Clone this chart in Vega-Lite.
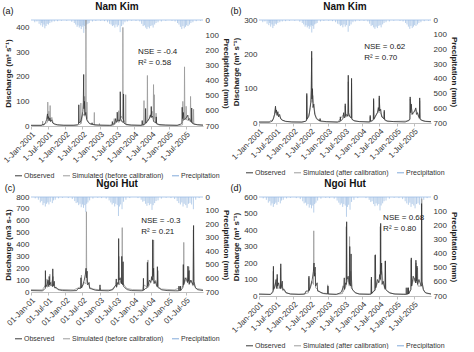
{
"$schema":"https://vega.github.io/schema/vega-lite/v6.json",
"padding":{"left":2,"top":2,"right":2,"bottom":0},
"config":{
"font":"Liberation Sans",
"view":{"stroke":null},
"axis":{"labelFontSize":8,"titleFontSize":8,"titleFontWeight":"bold","labelColor":"#333333","titleColor":"#222222","grid":false,"domain":false,"ticks":false,"labelPadding":2,"titlePadding":3,"labelOverlap":false},
"axisX":{"domain":true,"ticks":true,"domainColor":"#bfbfbf","tickColor":"#bfbfbf","tickSize":3,"labelAngle":-45,"labelOverlap":false,"labelPadding":1},
"legend":{"orient":"bottom","direction":"horizontal","symbolType":"stroke","symbolSize":49,"symbolStrokeWidth":1.2,"labelFontSize":7,"labelColor":"#333333","columnPadding":5,"labelOffset":1,"offset":6,"padding":0,"layout":{"bottom":{"anchor":"middle"}}},
"title":{"fontSize":10,"fontWeight":"bold","color":"#111111","offset":4},
"concat":{"spacing":0}
},
"datasets":{
"pNK":[{"d":"2001-02-10","p":15},{"d":"2001-03-05","p":10},{"d":"2001-03-28","p":25},{"d":"2001-04-15","p":35},{"d":"2001-04-25","p":20},{"d":"2001-05-05","p":45},{"d":"2001-05-18","p":30},{"d":"2001-05-28","p":55},{"d":"2001-06-10","p":40},{"d":"2001-06-22","p":25},{"d":"2001-07-05","p":30},{"d":"2001-07-20","p":20},{"d":"2001-08-10","p":15},{"d":"2001-09-05","p":10},{"d":"2001-10-10","p":8},{"d":"2001-11-20","p":5},
{"d":"2002-01-15","p":5},{"d":"2002-03-10","p":12},{"d":"2002-04-05","p":20},{"d":"2002-04-20","p":30},{"d":"2002-05-05","p":45},{"d":"2002-05-15","p":35},{"d":"2002-05-28","p":50},{"d":"2002-06-08","p":40},{"d":"2002-06-18","p":60},{"d":"2002-06-28","p":45},{"d":"2002-07-08","p":35},{"d":"2002-07-15","p":85},{"d":"2002-07-25","p":40},{"d":"2002-08-05","p":60},{"d":"2002-08-15","p":30},{"d":"2002-08-28","p":25},{"d":"2002-09-10","p":20},{"d":"2002-10-15","p":10},{"d":"2002-11-20","p":6},
{"d":"2003-01-10","p":5},{"d":"2003-02-20","p":8},{"d":"2003-03-25","p":15},{"d":"2003-04-15","p":25},{"d":"2003-05-01","p":30},{"d":"2003-05-15","p":40},{"d":"2003-05-28","p":35},{"d":"2003-06-10","p":50},{"d":"2003-06-22","p":30},{"d":"2003-07-05","p":45},{"d":"2003-07-18","p":35},{"d":"2003-08-05","p":80},{"d":"2003-08-20","p":40},{"d":"2003-09-05","p":30},{"d":"2003-09-25","p":15},{"d":"2003-10-20","p":10},{"d":"2003-12-05","p":5},
{"d":"2004-01-20","p":6},{"d":"2004-03-01","p":10},{"d":"2004-03-20","p":25},{"d":"2004-04-05","p":40},{"d":"2004-04-18","p":35},{"d":"2004-05-02","p":50},{"d":"2004-05-15","p":60},{"d":"2004-05-28","p":45},{"d":"2004-06-10","p":55},{"d":"2004-06-25","p":40},{"d":"2004-07-08","p":35},{"d":"2004-07-20","p":50},{"d":"2004-08-05","p":30},{"d":"2004-08-20","p":20},{"d":"2004-09-10","p":15},{"d":"2004-10-15","p":10},{"d":"2004-12-01","p":5},
{"d":"2005-02-05","p":6},{"d":"2005-03-10","p":10},{"d":"2005-04-05","p":20},{"d":"2005-04-20","p":30},{"d":"2005-05-05","p":45},{"d":"2005-05-20","p":60},{"d":"2005-06-01","p":40},{"d":"2005-06-15","p":55},{"d":"2005-06-28","p":45},{"d":"2005-07-10","p":35},{"d":"2005-07-25","p":40},{"d":"2005-08-10","p":30},{"d":"2005-08-25","p":20},{"d":"2005-09-15","p":15},{"d":"2005-10-20","p":8},{"d":"2005-12-05","p":5}],
"pNH":[{"d":"2001-02-15","p":10},{"d":"2001-03-20","p":20},{"d":"2001-04-10","p":40},{"d":"2001-04-25","p":30},{"d":"2001-05-08","p":60},{"d":"2001-05-20","p":45},{"d":"2001-06-02","p":70},{"d":"2001-06-15","p":50},{"d":"2001-06-28","p":40},{"d":"2001-07-10","p":55},{"d":"2001-07-25","p":35},{"d":"2001-08-15","p":45},{"d":"2001-08-28","p":25},{"d":"2001-09-15","p":20},{"d":"2001-10-20","p":10},{"d":"2001-12-01","p":6},
{"d":"2002-02-01","p":8},{"d":"2002-03-15","p":15},{"d":"2002-04-10","p":30},{"d":"2002-04-25","p":45},{"d":"2002-05-10","p":40},{"d":"2002-05-22","p":60},{"d":"2002-06-05","p":50},{"d":"2002-06-18","p":75},{"d":"2002-07-01","p":55},{"d":"2002-07-12","p":80},{"d":"2002-07-25","p":60},{"d":"2002-08-05","p":110},{"d":"2002-08-15","p":50},{"d":"2002-08-28","p":40},{"d":"2002-09-15","p":25},{"d":"2002-10-20","p":12},{"d":"2002-12-10","p":6},
{"d":"2003-01-20","p":8},{"d":"2003-03-10","p":12},{"d":"2003-04-10","p":25},{"d":"2003-04-28","p":40},{"d":"2003-05-12","p":55},{"d":"2003-05-25","p":45},{"d":"2003-06-08","p":70},{"d":"2003-06-20","p":50},{"d":"2003-07-05","p":60},{"d":"2003-07-18","p":140},{"d":"2003-07-28","p":70},{"d":"2003-08-10","p":55},{"d":"2003-08-25","p":90},{"d":"2003-09-10","p":35},{"d":"2003-10-05","p":20},{"d":"2003-11-15","p":8},
{"d":"2004-02-10","p":8},{"d":"2004-03-15","p":20},{"d":"2004-04-01","p":35},{"d":"2004-04-15","p":30},{"d":"2004-05-01","p":50},{"d":"2004-05-15","p":65},{"d":"2004-05-28","p":45},{"d":"2004-06-10","p":60},{"d":"2004-06-25","p":50},{"d":"2004-07-08","p":95},{"d":"2004-07-20","p":60},{"d":"2004-08-05","p":45},{"d":"2004-08-20","p":30},{"d":"2004-09-10","p":25},{"d":"2004-10-15","p":12},{"d":"2004-12-05","p":6},
{"d":"2005-01-25","p":8},{"d":"2005-03-05","p":15},{"d":"2005-04-01","p":30},{"d":"2005-04-18","p":45},{"d":"2005-05-05","p":55},{"d":"2005-05-20","p":40},{"d":"2005-06-02","p":70},{"d":"2005-06-15","p":50},{"d":"2005-07-01","p":60},{"d":"2005-07-15","p":80},{"d":"2005-07-30","p":50},{"d":"2005-08-15","p":45},{"d":"2005-09-01","p":55},{"d":"2005-09-20","p":90},{"d":"2005-10-15","p":20},{"d":"2005-11-20","p":8}],
"oNK":[{"d":"2001-01-01","v":3},{"d":"2001-04-20","v":3},{"d":"2001-05-05","v":6},{"d":"2001-05-20","v":5},{"d":"2001-06-05","v":15},{"d":"2001-06-15","v":25},{"d":"2001-06-25","v":49},{"d":"2001-06-29","v":30},{"d":"2001-07-05","v":38},{"d":"2001-07-12","v":22},{"d":"2001-07-20","v":33},{"d":"2001-07-28","v":18},{"d":"2001-08-08","v":25},{"d":"2001-08-20","v":12},{"d":"2001-09-10","v":8},{"d":"2001-10-10","v":5},{"d":"2001-12-15","v":3},
{"d":"2002-04-01","v":3},{"d":"2002-05-10","v":5},{"d":"2002-05-20","v":8},{"d":"2002-05-23","v":86},{"d":"2002-05-27","v":12},{"d":"2002-06-15","v":20},{"d":"2002-06-28","v":45},{"d":"2002-07-05","v":60},{"d":"2002-07-10","v":95},{"d":"2002-07-14","v":209},{"d":"2002-07-17","v":70},{"d":"2002-07-22","v":100},{"d":"2002-07-28","v":45},{"d":"2002-08-05","v":55},{"d":"2002-08-15","v":25},{"d":"2002-09-01","v":15},{"d":"2002-09-20","v":9},{"d":"2002-10-09","v":7},{"d":"2002-10-11","v":13},{"d":"2002-10-14","v":6},{"d":"2002-12-15","v":4},
{"d":"2003-04-15","v":3},{"d":"2003-05-11","v":4},{"d":"2003-05-14","v":18},{"d":"2003-05-18","v":6},{"d":"2003-06-10","v":12},{"d":"2003-06-18","v":30},{"d":"2003-06-24","v":15},{"d":"2003-07-02","v":18},{"d":"2003-07-05","v":56},{"d":"2003-07-10","v":20},{"d":"2003-07-22","v":25},{"d":"2003-08-03","v":20},{"d":"2003-08-06","v":139},{"d":"2003-08-10","v":30},{"d":"2003-08-22","v":18},{"d":"2003-09-07","v":15},{"d":"2003-09-10","v":130},{"d":"2003-09-13","v":12},{"d":"2003-10-05","v":7},{"d":"2003-12-01","v":4},
{"d":"2004-03-15","v":3},{"d":"2004-03-23","v":4},{"d":"2004-03-26","v":22},{"d":"2004-03-30","v":5},{"d":"2004-04-20","v":8},{"d":"2004-04-28","v":10},{"d":"2004-05-01","v":71},{"d":"2004-05-05","v":12},{"d":"2004-05-20","v":20},{"d":"2004-06-10","v":30},{"d":"2004-06-20","v":45},{"d":"2004-06-27","v":35},{"d":"2004-06-30","v":79},{"d":"2004-07-05","v":35},{"d":"2004-07-15","v":40},{"d":"2004-07-25","v":18},{"d":"2004-08-10","v":15},{"d":"2004-08-19","v":12},{"d":"2004-08-22","v":37},{"d":"2004-08-26","v":10},{"d":"2004-09-20","v":6},{"d":"2004-12-01","v":4},
{"d":"2005-04-01","v":3},{"d":"2005-05-10","v":8},{"d":"2005-05-21","v":12},{"d":"2005-05-24","v":76},{"d":"2005-05-28","v":30},{"d":"2005-06-05","v":55},{"d":"2005-06-12","v":25},{"d":"2005-06-25","v":30},{"d":"2005-07-10","v":35},{"d":"2005-07-23","v":44},{"d":"2005-07-30","v":25},{"d":"2005-08-10","v":30},{"d":"2005-08-20","v":20},{"d":"2005-08-30","v":15},{"d":"2005-09-02","v":73},{"d":"2005-09-06","v":12},{"d":"2005-09-25","v":8},{"d":"2005-11-01","v":5},{"d":"2005-12-31","v":4}],
"sA":[{"d":"2001-01-01","v":2},{"d":"2001-05-01","v":2},{"d":"2001-05-05","v":20},{"d":"2001-05-08","v":3},{"d":"2001-06-01","v":10},{"d":"2001-06-25","v":15},{"d":"2001-06-28","v":97},{"d":"2001-07-02","v":20},{"d":"2001-07-10","v":60},{"d":"2001-07-15","v":25},{"d":"2001-07-20","v":20},{"d":"2001-07-23","v":83},{"d":"2001-07-27","v":20},{"d":"2001-08-10","v":35},{"d":"2001-08-25","v":10},{"d":"2001-09-20","v":5},{"d":"2001-11-01","v":3},
{"d":"2002-05-01","v":3},{"d":"2002-06-11","v":8},{"d":"2002-06-14","v":93},{"d":"2002-06-17","v":10},{"d":"2002-07-05","v":50},{"d":"2002-07-22","v":40},{"d":"2002-07-25","v":120},{"d":"2002-07-28","v":40},{"d":"2002-08-04","v":50},{"d":"2002-08-07","v":440},{"d":"2002-08-10","v":60},{"d":"2002-08-15","v":30},{"d":"2002-08-18","v":97},{"d":"2002-08-22","v":25},{"d":"2002-09-10","v":10},{"d":"2002-11-01","v":5},{"d":"2002-11-04","v":55},{"d":"2002-11-06","v":3},{"d":"2002-12-26","v":3},{"d":"2002-12-28","v":10},{"d":"2002-12-31","v":2},
{"d":"2003-05-01","v":2},{"d":"2003-05-31","v":4},{"d":"2003-06-03","v":30},{"d":"2003-06-06","v":5},{"d":"2003-07-01","v":20},{"d":"2003-07-17","v":15},{"d":"2003-07-20","v":62},{"d":"2003-07-24","v":15},{"d":"2003-08-15","v":40},{"d":"2003-08-31","v":30},{"d":"2003-09-03","v":400},{"d":"2003-09-06","v":30},{"d":"2003-09-30","v":8},{"d":"2003-10-03","v":127},{"d":"2003-10-06","v":5},{"d":"2003-11-01","v":3},
{"d":"2004-04-10","v":2},{"d":"2004-04-14","v":103},{"d":"2004-04-17","v":5},{"d":"2004-05-17","v":15},{"d":"2004-05-20","v":205},{"d":"2004-05-24","v":20},{"d":"2004-06-20","v":40},{"d":"2004-07-10","v":60},{"d":"2004-07-21","v":40},{"d":"2004-07-24","v":168},{"d":"2004-07-28","v":30},{"d":"2004-08-01","v":127},{"d":"2004-08-05","v":25},{"d":"2004-08-17","v":15},{"d":"2004-08-20","v":52},{"d":"2004-08-24","v":8},{"d":"2004-10-01","v":3},
{"d":"2005-04-15","v":2},{"d":"2005-05-28","v":5},{"d":"2005-05-31","v":100},{"d":"2005-06-04","v":20},{"d":"2005-06-15","v":30},{"d":"2005-06-18","v":240},{"d":"2005-06-22","v":30},{"d":"2005-07-02","v":25},{"d":"2005-07-05","v":80},{"d":"2005-07-10","v":25},{"d":"2005-08-18","v":20},{"d":"2005-08-21","v":120},{"d":"2005-08-25","v":20},{"d":"2005-09-19","v":10},{"d":"2005-09-22","v":68},{"d":"2005-09-25","v":8},{"d":"2005-12-31","v":2}],
"sB":[{"d":"2001-01-01","v":2},{"d":"2001-05-01","v":2},{"d":"2001-06-01","v":10},{"d":"2001-06-20","v":30},{"d":"2001-06-26","v":44},{"d":"2001-07-02","v":25},{"d":"2001-07-15","v":30},{"d":"2001-07-25","v":20},{"d":"2001-08-10","v":18},{"d":"2001-09-01","v":8},{"d":"2001-10-15","v":4},
{"d":"2002-04-01","v":2},{"d":"2002-05-19","v":6},{"d":"2002-05-22","v":80},{"d":"2002-05-26","v":10},{"d":"2002-06-20","v":30},{"d":"2002-07-08","v":70},{"d":"2002-07-14","v":190},{"d":"2002-07-18","v":60},{"d":"2002-07-26","v":80},{"d":"2002-08-10","v":40},{"d":"2002-09-01","v":12},{"d":"2002-10-09","v":5},{"d":"2002-10-11","v":10},{"d":"2002-10-14","v":4},
{"d":"2003-04-15","v":2},{"d":"2003-06-18","v":25},{"d":"2003-07-02","v":15},{"d":"2003-07-05","v":50},{"d":"2003-07-12","v":18},{"d":"2003-08-03","v":20},{"d":"2003-08-06","v":120},{"d":"2003-08-10","v":25},{"d":"2003-09-07","v":15},{"d":"2003-09-10","v":115},{"d":"2003-09-13","v":10},{"d":"2003-10-15","v":5},
{"d":"2004-03-23","v":3},{"d":"2004-03-26","v":18},{"d":"2004-03-30","v":3},{"d":"2004-04-28","v":8},{"d":"2004-05-01","v":65},{"d":"2004-05-05","v":10},{"d":"2004-06-20","v":35},{"d":"2004-06-27","v":30},{"d":"2004-06-30","v":72},{"d":"2004-07-10","v":30},{"d":"2004-08-19","v":12},{"d":"2004-08-22","v":32},{"d":"2004-08-26","v":8},{"d":"2004-10-01","v":4},
{"d":"2005-05-10","v":6},{"d":"2005-05-21","v":10},{"d":"2005-05-24","v":70},{"d":"2005-06-05","v":45},{"d":"2005-06-20","v":25},{"d":"2005-07-23","v":40},{"d":"2005-08-10","v":28},{"d":"2005-08-30","v":12},{"d":"2005-09-02","v":65},{"d":"2005-09-06","v":10},{"d":"2005-10-15","v":5},{"d":"2005-12-31","v":3}],
"oNH":[{"d":"2001-01-01","v":12},{"d":"2001-05-01","v":10},{"d":"2001-05-20","v":20},{"d":"2001-06-01","v":30},{"d":"2001-06-03","v":180},{"d":"2001-06-06","v":40},{"d":"2001-06-20","v":60},{"d":"2001-07-01","v":100},{"d":"2001-07-05","v":50},{"d":"2001-07-10","v":45},{"d":"2001-07-13","v":131},{"d":"2001-07-17","v":60},{"d":"2001-07-28","v":80},{"d":"2001-08-05","v":55},{"d":"2001-08-17","v":45},{"d":"2001-08-20","v":195},{"d":"2001-08-24","v":50},{"d":"2001-09-05","v":90},{"d":"2001-09-10","v":35},{"d":"2001-09-25","v":40},{"d":"2001-10-15","v":20},{"d":"2001-12-01","v":12},
{"d":"2002-03-01","v":10},{"d":"2002-05-01","v":12},{"d":"2002-05-15","v":30},{"d":"2002-06-12","v":30},{"d":"2002-06-15","v":120},{"d":"2002-06-19","v":35},{"d":"2002-07-05","v":60},{"d":"2002-07-20","v":100},{"d":"2002-08-01","v":150},{"d":"2002-08-08","v":200},{"d":"2002-08-12","v":120},{"d":"2002-08-20","v":175},{"d":"2002-08-25","v":60},{"d":"2002-09-10","v":80},{"d":"2002-09-15","v":30},{"d":"2002-10-10","v":25},{"d":"2002-11-15","v":15},{"d":"2002-12-31","v":12},
{"d":"2003-01-03","v":60},{"d":"2003-01-06","v":12},{"d":"2003-04-01","v":10},{"d":"2003-05-20","v":20},{"d":"2003-06-20","v":60},{"d":"2003-06-25","v":110},{"d":"2003-06-28","v":40},{"d":"2003-07-10","v":80},{"d":"2003-07-17","v":70},{"d":"2003-07-20","v":450},{"d":"2003-07-24","v":100},{"d":"2003-08-05","v":120},{"d":"2003-08-19","v":70},{"d":"2003-08-22","v":300},{"d":"2003-08-26","v":80},{"d":"2003-09-02","v":60},{"d":"2003-09-05","v":255},{"d":"2003-09-08","v":50},{"d":"2003-09-25","v":35},{"d":"2003-10-20","v":20},{"d":"2003-12-01","v":12},
{"d":"2004-03-15","v":10},{"d":"2004-04-05","v":12},{"d":"2004-04-08","v":115},{"d":"2004-04-11","v":15},{"d":"2004-05-01","v":30},{"d":"2004-05-17","v":35},{"d":"2004-05-20","v":250},{"d":"2004-05-24","v":50},{"d":"2004-06-10","v":100},{"d":"2004-06-25","v":80},{"d":"2004-07-05","v":130},{"d":"2004-07-12","v":100},{"d":"2004-07-15","v":440},{"d":"2004-07-18","v":130},{"d":"2004-07-25","v":200},{"d":"2004-07-30","v":70},{"d":"2004-08-10","v":90},{"d":"2004-08-31","v":45},{"d":"2004-09-03","v":213},{"d":"2004-09-07","v":40},{"d":"2004-09-25","v":30},{"d":"2004-10-20","v":18},{"d":"2004-12-15","v":12},
{"d":"2005-03-10","v":10},{"d":"2005-04-17","v":10},{"d":"2005-04-20","v":50},{"d":"2005-04-23","v":12},{"d":"2005-05-02","v":12},{"d":"2005-05-05","v":50},{"d":"2005-05-08","v":12},{"d":"2005-06-01","v":40},{"d":"2005-06-05","v":231},{"d":"2005-06-09","v":60},{"d":"2005-06-25","v":120},{"d":"2005-07-10","v":100},{"d":"2005-07-20","v":80},{"d":"2005-07-24","v":217},{"d":"2005-07-28","v":90},{"d":"2005-08-05","v":181},{"d":"2005-08-10","v":70},{"d":"2005-08-25","v":100},{"d":"2005-09-18","v":60},{"d":"2005-09-22","v":560},{"d":"2005-09-26","v":90},{"d":"2005-10-10","v":40},{"d":"2005-11-01","v":20},{"d":"2005-12-31","v":12}],
"sC":[{"d":"2001-01-01","v":20},{"d":"2001-05-01","v":18},{"d":"2001-06-05","v":60},{"d":"2001-06-17","v":50},{"d":"2001-06-20","v":110},{"d":"2001-06-25","v":40},{"d":"2001-07-10","v":90},{"d":"2001-07-17","v":60},{"d":"2001-07-20","v":150},{"d":"2001-07-25","v":50},{"d":"2001-08-15","v":100},{"d":"2001-08-25","v":130},{"d":"2001-09-01","v":45},{"d":"2001-09-20","v":30},{"d":"2001-11-01","v":22},
{"d":"2002-04-01","v":18},{"d":"2002-06-01","v":40},{"d":"2002-06-17","v":40},{"d":"2002-06-20","v":143},{"d":"2002-06-24","v":35},{"d":"2002-07-20","v":80},{"d":"2002-08-09","v":70},{"d":"2002-08-12","v":676},{"d":"2002-08-15","v":90},{"d":"2002-08-25","v":87},{"d":"2002-09-15","v":40},{"d":"2002-10-20","v":25},
{"d":"2003-01-04","v":18},{"d":"2003-01-07","v":31},{"d":"2003-01-10","v":18},{"d":"2003-05-01","v":18},{"d":"2003-06-15","v":50},{"d":"2003-07-10","v":70},{"d":"2003-07-20","v":60},{"d":"2003-07-23","v":300},{"d":"2003-07-27","v":60},{"d":"2003-08-10","v":90},{"d":"2003-08-24","v":70},{"d":"2003-08-27","v":542},{"d":"2003-08-31","v":80},{"d":"2003-09-15","v":60},{"d":"2003-10-15","v":30},{"d":"2003-12-15","v":20},
{"d":"2004-04-01","v":18},{"d":"2004-04-10","v":60},{"d":"2004-05-23","v":40},{"d":"2004-05-26","v":270},{"d":"2004-05-30","v":40},{"d":"2004-06-20","v":80},{"d":"2004-07-10","v":120},{"d":"2004-07-22","v":90},{"d":"2004-07-25","v":438},{"d":"2004-07-28","v":80},{"d":"2004-08-15","v":100},{"d":"2004-09-06","v":50},{"d":"2004-09-09","v":180},{"d":"2004-09-12","v":45},{"d":"2004-10-15","v":25},
{"d":"2005-03-01","v":18},{"d":"2005-05-15","v":40},{"d":"2005-06-07","v":50},{"d":"2005-06-10","v":418},{"d":"2005-06-14","v":70},{"d":"2005-07-10","v":120},{"d":"2005-07-30","v":70},{"d":"2005-08-02","v":213},{"d":"2005-08-06","v":60},{"d":"2005-08-20","v":100},{"d":"2005-09-17","v":50},{"d":"2005-09-20","v":522},{"d":"2005-09-24","v":70},{"d":"2005-10-15","v":30},{"d":"2005-12-31","v":20}],
"sD":[{"d":"2001-01-01","v":10},{"d":"2001-05-01","v":9},{"d":"2001-05-28","v":20},{"d":"2001-06-01","v":150},{"d":"2001-06-05","v":40},{"d":"2001-06-25","v":80},{"d":"2001-07-10","v":45},{"d":"2001-07-13","v":110},{"d":"2001-07-17","v":50},{"d":"2001-08-14","v":45},{"d":"2001-08-17","v":170},{"d":"2001-08-21","v":45},{"d":"2001-09-10","v":50},{"d":"2001-10-10","v":20},{"d":"2001-12-01","v":12},
{"d":"2002-04-15","v":10},{"d":"2002-06-10","v":20},{"d":"2002-06-13","v":110},{"d":"2002-06-16","v":30},{"d":"2002-07-15","v":90},{"d":"2002-08-02","v":70},{"d":"2002-08-05","v":395},{"d":"2002-08-08","v":120},{"d":"2002-08-20","v":140},{"d":"2002-08-24","v":50},{"d":"2002-09-15","v":40},{"d":"2002-10-20","v":18},{"d":"2002-12-28","v":15},{"d":"2002-12-31","v":68},
{"d":"2003-01-03","v":12},{"d":"2003-04-01","v":10},{"d":"2003-06-07","v":15},{"d":"2003-06-10","v":62},{"d":"2003-06-13","v":25},{"d":"2003-07-13","v":60},{"d":"2003-07-16","v":420},{"d":"2003-07-19","v":80},{"d":"2003-08-05","v":100},{"d":"2003-08-17","v":60},{"d":"2003-08-20","v":360},{"d":"2003-08-23","v":70},{"d":"2003-09-01","v":150},{"d":"2003-09-20","v":40},{"d":"2003-10-20","v":18},{"d":"2003-12-01","v":12},
{"d":"2004-04-03","v":12},{"d":"2004-04-06","v":100},{"d":"2004-04-09","v":15},{"d":"2004-05-09","v":30},{"d":"2004-05-12","v":247},{"d":"2004-05-15","v":40},{"d":"2004-06-20","v":90},{"d":"2004-07-08","v":90},{"d":"2004-07-11","v":420},{"d":"2004-07-14","v":140},{"d":"2004-07-25","v":150},{"d":"2004-08-10","v":80},{"d":"2004-08-29","v":40},{"d":"2004-09-01","v":211},{"d":"2004-09-04","v":40},{"d":"2004-10-01","v":25},{"d":"2004-12-01","v":12},
{"d":"2005-04-07","v":12},{"d":"2005-04-10","v":50},{"d":"2005-04-13","v":12},{"d":"2005-04-28","v":12},{"d":"2005-05-01","v":50},{"d":"2005-05-04","v":12},{"d":"2005-05-30","v":40},{"d":"2005-06-03","v":220},{"d":"2005-06-07","v":60},{"d":"2005-07-05","v":110},{"d":"2005-07-23","v":80},{"d":"2005-07-26","v":200},{"d":"2005-07-29","v":80},{"d":"2005-08-10","v":170},{"d":"2005-08-15","v":60},{"d":"2005-09-21","v":60},{"d":"2005-09-24","v":590},{"d":"2005-09-27","v":80},{"d":"2005-10-15","v":30},{"d":"2005-11-15","v":15},{"d":"2005-12-31","v":12}]
},
"resolve":{"scale":{"color":"independent"},"legend":{"color":"independent"}},
"vconcat":[
{"hconcat":[
{"title":{"text":"(a)","anchor":"start","fontSize":9,"fontWeight":"normal","offset":-14},
"resolve":{"scale":{"color":"independent"},"legend":{"color":"independent"}},
"vconcat":[{
"title":{"text":"Nam Kim","frame":"group"},
"width":172,"height":106,
"resolve":{"scale":{"y":"independent"}},
"layer":[
{"layer":[
{"data":{"name":"pNK"},"mark":{"type":"rule","strokeWidth":0.7,"opacity":0.8},
"encoding":{"x":{"field":"d","type":"temporal","scale":{"domain":[{"year":2001,"month":1,"date":1},{"year":2005,"month":12,"date":31}]},"axis":{"title":null,"labelOverlap":false,"format":"%-d-%b-%Y","tickCount":{"interval":"month","step":6}}},
"y":{"field":"p","type":"quantitative","scale":{"domain":[0,700],"reverse":true},"axis":{"orient":"right","title":"Precipitation (mm)","labelOverlap":false,"tickCount":8}},
"y2":{"datum":0},
"color":{"datum":"Precipitation","scale":{"domain":["Observed","Simulated (before calibration)","Precipitation"],"range":["#333333","#999999","#7fa8da"]},"legend":{"title":null}}}},
{"data":{"values":[{}]},"mark":{"type":"rule","color":"#9dbde6","strokeWidth":0.8},"encoding":{"y":{"datum":0}}}
]},
{"layer":[
{"data":{"name":"sA"},"mark":{"type":"line","strokeWidth":0.8,"clip":true},"encoding":{"x":{"field":"d","type":"temporal","title":null},"y":{"field":"v","type":"quantitative","scale":{"domain":[0,430],"nice":false},"axis":{"title":"Discharge (m³ s⁻¹)","labelOverlap":false,"tickCount":5}},"color":{"datum":"Simulated (before calibration)"}}},
{"data":{"name":"oNK"},"mark":{"type":"line","strokeWidth":0.8,"clip":true},"encoding":{"x":{"field":"d","type":"temporal","title":null},"y":{"field":"v","type":"quantitative"},"color":{"datum":"Observed"}}},
{"data":{"values":[{}]},"mark":{"type":"text","text":["NSE = -0.4","R² = 0.58"],"align":"left","baseline":"middle","fontSize":8,"lineHeight":11,"color":"#222222"},"encoding":{"x":{"datum":{"year":2004,"month":2,"date":10},"type":"temporal"},"y":{"datum":300}}}
]}
]}]},
{"title":{"text":"(b)","anchor":"start","fontSize":9,"fontWeight":"normal","offset":-14},
"resolve":{"scale":{"color":"independent"},"legend":{"color":"independent"}},
"vconcat":[{
"title":{"text":"Nam Kim","frame":"group"},
"width":172,"height":103,
"resolve":{"scale":{"y":"independent"}},
"layer":[
{"layer":[
{"data":{"name":"pNK"},"mark":{"type":"rule","strokeWidth":0.7,"opacity":0.8},
"encoding":{"x":{"field":"d","type":"temporal","scale":{"domain":[{"year":2001,"month":1,"date":1},{"year":2005,"month":12,"date":31}]},"axis":{"title":null,"labelOverlap":false,"format":"%-d-%b-%Y","tickCount":{"interval":"month","step":6}}},
"y":{"field":"p","type":"quantitative","scale":{"domain":[0,700],"reverse":true},"axis":{"orient":"right","title":"Precipitation (mm)","labelOverlap":false,"tickCount":8}},
"y2":{"datum":0},
"color":{"datum":"Precipitation","scale":{"domain":["Observed","Simulated (after calibration)","Precipitation"],"range":["#333333","#999999","#7fa8da"]},"legend":{"title":null}}}},
{"data":{"values":[{}]},"mark":{"type":"rule","color":"#9dbde6","strokeWidth":0.8},"encoding":{"y":{"datum":0}}}
]},
{"layer":[
{"data":{"name":"sB"},"mark":{"type":"line","strokeWidth":0.8,"clip":true},"encoding":{"x":{"field":"d","type":"temporal","title":null},"y":{"field":"v","type":"quantitative","scale":{"domain":[0,300]},"axis":{"title":"Discharge (m³ s⁻¹)","labelOverlap":false,"tickCount":4}},"color":{"datum":"Simulated (after calibration)"}}},
{"data":{"name":"oNK"},"mark":{"type":"line","strokeWidth":0.8,"clip":true},"encoding":{"x":{"field":"d","type":"temporal","title":null},"y":{"field":"v","type":"quantitative"},"color":{"datum":"Observed"}}},
{"data":{"values":[{}]},"mark":{"type":"text","text":["NSE = 0.62","R² = 0.70"],"align":"left","baseline":"middle","fontSize":8,"lineHeight":11,"color":"#222222"},"encoding":{"x":{"datum":{"year":2004,"month":1,"date":22},"type":"temporal"},"y":{"datum":220}}}
]}
]}]}
],"resolve":{"scale":{"color":"independent"},"legend":{"color":"independent"}}},
{"hconcat":[
{"title":{"text":"(c)","anchor":"start","fontSize":9,"fontWeight":"normal","offset":-14},
"resolve":{"scale":{"color":"independent"},"legend":{"color":"independent"}},
"vconcat":[{
"title":{"text":"Ngoi Hut","frame":"group"},
"width":172,"height":95,
"resolve":{"scale":{"y":"independent"}},
"layer":[
{"layer":[
{"data":{"name":"pNH"},"mark":{"type":"rule","strokeWidth":0.7,"opacity":0.8},
"encoding":{"x":{"field":"d","type":"temporal","scale":{"domain":[{"year":2001,"month":1,"date":1},{"year":2005,"month":12,"date":31}]},"axis":{"title":null,"labelOverlap":false,"format":"%d-%b-%y","tickCount":{"interval":"month","step":6}}},
"y":{"field":"p","type":"quantitative","scale":{"domain":[0,700],"reverse":true},"axis":{"orient":"right","title":"Precipitation (mm)","labelOverlap":false,"tickCount":8}},
"y2":{"datum":0},
"color":{"datum":"Precipitation","scale":{"domain":["Observed","Simulated (before calibration)","Precipitation"],"range":["#333333","#999999","#7fa8da"]},"legend":{"title":null}}}},
{"data":{"values":[{}]},"mark":{"type":"rule","color":"#9dbde6","strokeWidth":0.8},"encoding":{"y":{"datum":0}}}
]},
{"layer":[
{"data":{"name":"sC"},"mark":{"type":"line","strokeWidth":0.8,"clip":true},"encoding":{"x":{"field":"d","type":"temporal","title":null},"y":{"field":"v","type":"quantitative","scale":{"domain":[0,800]},"axis":{"title":"Discharge (m3 s-1)","labelOverlap":false,"tickCount":8}},"color":{"datum":"Simulated (before calibration)"}}},
{"data":{"name":"oNH"},"mark":{"type":"line","strokeWidth":0.8,"clip":true},"encoding":{"x":{"field":"d","type":"temporal","title":null},"y":{"field":"v","type":"quantitative"},"color":{"datum":"Observed"}}},
{"data":{"values":[{}]},"mark":{"type":"text","text":["NSE = -0.3","R² = 0.21"],"align":"left","baseline":"middle","fontSize":8,"lineHeight":11,"color":"#222222"},"encoding":{"x":{"datum":{"year":2004,"month":3,"date":15},"type":"temporal"},"y":{"datum":600}}}
]}
]}]},
{"title":{"text":"(d)","anchor":"start","fontSize":9,"fontWeight":"normal","offset":-14},
"resolve":{"scale":{"color":"independent"},"legend":{"color":"independent"}},
"vconcat":[{
"title":{"text":"Ngoi Hut","frame":"group"},
"width":172,"height":99,
"resolve":{"scale":{"y":"independent"}},
"layer":[
{"layer":[
{"data":{"name":"pNH"},"mark":{"type":"rule","strokeWidth":0.7,"opacity":0.8},
"encoding":{"x":{"field":"d","type":"temporal","scale":{"domain":[{"year":2001,"month":1,"date":1},{"year":2005,"month":12,"date":31}]},"axis":{"title":null,"labelOverlap":false,"format":"%-d-%b-%Y","tickCount":{"interval":"month","step":6}}},
"y":{"field":"p","type":"quantitative","scale":{"domain":[0,700],"reverse":true},"axis":{"orient":"right","title":"Precipitation (mm)","labelOverlap":false,"tickCount":8}},
"y2":{"datum":0},
"color":{"datum":"Precipitation","scale":{"domain":["Observed","Simulated (after calibration)","Precipitation"],"range":["#333333","#999999","#7fa8da"]},"legend":{"title":null}}}},
{"data":{"values":[{}]},"mark":{"type":"rule","color":"#9dbde6","strokeWidth":0.8},"encoding":{"y":{"datum":0}}}
]},
{"layer":[
{"data":{"name":"sD"},"mark":{"type":"line","strokeWidth":0.8,"clip":true},"encoding":{"x":{"field":"d","type":"temporal","title":null},"y":{"field":"v","type":"quantitative","scale":{"domain":[0,600]},"axis":{"title":"Discharge (m³ s⁻¹)","labelOverlap":false,"tickCount":6}},"color":{"datum":"Simulated (after calibration)"}}},
{"data":{"name":"oNH"},"mark":{"type":"line","strokeWidth":0.8,"clip":true},"encoding":{"x":{"field":"d","type":"temporal","title":null},"y":{"field":"v","type":"quantitative"},"color":{"datum":"Observed"}}},
{"data":{"values":[{}]},"mark":{"type":"text","text":["NSE =  0.68","R² = 0.80"],"align":"left","baseline":"middle","fontSize":8,"lineHeight":11,"color":"#222222"},"encoding":{"x":{"datum":{"year":2004,"month":8,"date":10},"type":"temporal"},"y":{"datum":470}}}
]}
]}]}
],"resolve":{"scale":{"color":"independent"},"legend":{"color":"independent"}}}
]
}
